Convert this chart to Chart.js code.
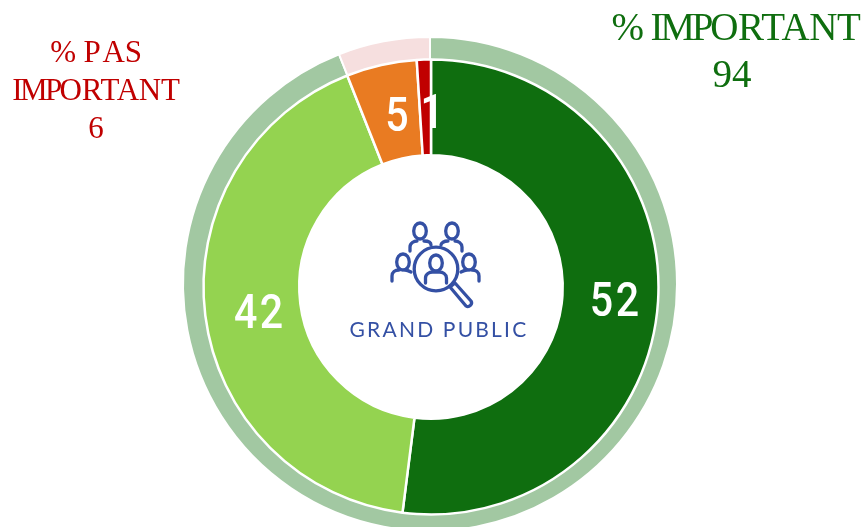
<!DOCTYPE html>
<html><head><meta charset="utf-8">
<script src="https://cdn.jsdelivr.net/npm/chart.js@4"></script>
<style>
html,body{margin:0;padding:0;background:#fff;width:867px;height:527px;overflow:hidden}
#stage{position:relative;width:867px;height:527px;overflow:hidden}
canvas{position:absolute}
.t{position:absolute;font-family:"Liberation Serif",serif;text-align:center;white-space:nowrap}
#green{left:561px;width:350px;top:3px;font-size:39px;line-height:47px;color:#0F6E0F;letter-spacing:-.4px}
#green .n{letter-spacing:0;position:relative;left:-4px}
#green .i{letter-spacing:-3.2px}
#green .o{letter-spacing:-1.6px}
#red{left:-54px;width:300px;top:33px;font-size:31px;line-height:38px;color:#C00000;letter-spacing:-.2px}
#red .i{letter-spacing:-2.6px}
#red .p{letter-spacing:1.8px}
#center{position:absolute;left:300px;width:278px;top:316px;text-align:center;font:21px Lato,sans-serif;letter-spacing:2.2px;color:#3450A4}
svg{position:absolute;left:0;top:0}
</style></head><body>
<div id="stage">
<canvas id="outer" width="600" height="600" style="left:130px;top:-16px"></canvas>
<canvas id="inner" width="500" height="500" style="left:181px;top:37px"></canvas>
<svg width="867" height="527" fill="none" stroke="#3450A4" stroke-width="3.3" stroke-linecap="round" stroke-linejoin="round">
<ellipse cx="420" cy="231" rx="6.3" ry="8"/><path d="M410 251v-4c0-4 4-6 7-6M431 245c0-2-2-4-7-4"/>
<ellipse cx="452" cy="231" rx="6.3" ry="8"/><path d="M441 245c0-2 3-4 7-4M462 251v-4c0-4-4-6-7-6"/>
<ellipse cx="403" cy="262" rx="6.3" ry="8"/><path d="M392 281v-5c0-4 3-6 7-6M411 272c-2-1-4-2-6-2"/>
<ellipse cx="469" cy="262" rx="6.3" ry="8"/><path d="M479 281v-5c0-4-3-6-7-6M461 272c2-1 4-2 6-2"/>
<circle cx="436" cy="269" r="21.8"/>
<ellipse cx="436" cy="263" rx="6.3" ry="8"/><path d="M425.500 283v-5c0-4 4-6 7-6h7c3 0 7 2 7 6v5"/>
<path d="M450 287l5-4 16 18c2 3-2 7-5 5z"/>
</svg>
<div class="t" id="green"><span class="o">% </span><span class="i">IMP</span>ORTANT<br><span class="n">94</span></div>
<div class="t" id="red"><span class="o">% </span><span class="p">P</span>AS<br><span class="i">IMP</span>ORTANT<br>6</div>
<div id="center">GRAND PUBLIC</div>
</div>
<script>
const innerValues=[52,42,5,1];
const innerColors=["#0F6E0F","#94D350","#E97B22","#C00000"];
const innerLabels=["52","42","5","1"];
const labelOffsets=[[5.5,5.5],[7,6],[6.5,7.5],[8,8]];
const outerValues=[94,6];
const outerColors=["#A2C8A2","#F6DFDF"];

const labelPlugin={id:"sliceLabels",afterDatasetsDraw(c){
  const ctx=c.ctx,arcs=c.getDatasetMeta(0).data;
  ctx.save();
  ctx.fillStyle="#fff";ctx.textAlign="center";ctx.textBaseline="middle";
  ctx.font='500 49px Roboto,sans-serif';
  ctx.letterSpacing="3px";
  arcs.forEach((a,i)=>{
    const p=a.tooltipPosition();
    ctx.save();
    ctx.translate(p.x+labelOffsets[i][0],p.y+labelOffsets[i][1]);
    ctx.scale(0.84,1);
    ctx.fillText(innerLabels[i],0,0);
    ctx.restore();
  });
  ctx.restore();
}};
const base={responsive:false,animation:false,events:[],layout:{padding:0},plugins:{legend:{display:false},tooltip:{enabled:false}}};
new Chart(document.getElementById("outer"),{type:"doughnut",
  data:{labels:["Important","Pas important"],datasets:[{data:outerValues,backgroundColor:outerColors,borderColor:"#fff",borderWidth:2}]},
  options:{...base,radius:247,cutout:"90.5%"}});
new Chart(document.getElementById("inner"),{type:"doughnut",
  data:{labels:innerLabels,datasets:[{data:innerValues,backgroundColor:innerColors,borderColor:"#fff",borderWidth:2.5}]},
  options:{...base,radius:227.5,cutout:"57.9%"},plugins:[labelPlugin]});
</script>
</body></html>
